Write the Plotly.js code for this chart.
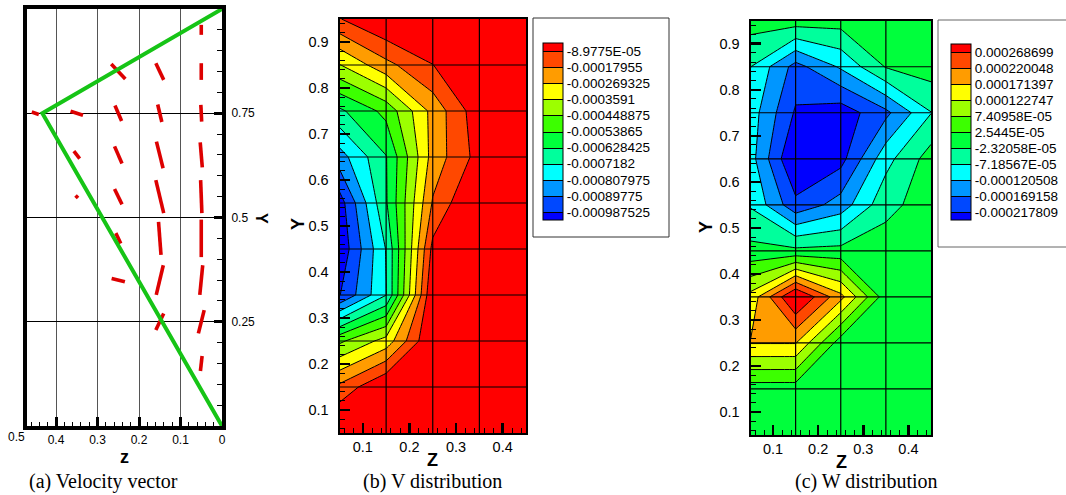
<!DOCTYPE html>
<html>
<head>
<meta charset="utf-8">
<script src="https://cdn.plot.ly/plotly-3.0.1.min.js"></script>
<style>
html,body{margin:0;padding:0;background:#ffffff;}
#chart{width:1066px;height:495px;}
</style>
</head>
<body>
<div id="chart"></div>
<script>
// ===================== DATA =====================
// mesh nodes (z across, Y up)
const zNodes = [0.05, 0.15, 0.25, 0.35, 0.45];
const yNodes = [0.05, 0.15, 0.25, 0.35, 0.45, 0.55, 0.65, 0.75, 0.85, 0.95];

// (b) V distribution, rows = yNodes (bottom to top), cols = zNodes
const vField = [
  [ 4.49e-5,   3.59e-5,   2.69e-5,   2.69e-5,  2.69e-5],
  [-1.571e-4,  8.98e-6,   2.69e-5,   2.69e-5,  2.69e-5],
  [-4.668e-4, -3.232e-4,  9.9e-6,    2.69e-5,  2.69e-5],
  [-9.920e-4, -7.200e-4,  1.0e-6,    2.69e-5,  2.69e-5],
  [-1.0594e-3,-7.137e-4, -6.28e-5,   1.80e-5,  2.69e-5],
  [-1.0324e-3,-6.374e-4, -1.706e-4,  3.59e-5,  2.69e-5],
  [-8.484e-4, -6.329e-4, -2.334e-4, -5.39e-5,  1.80e-5],
  [-6.464e-4, -5.117e-4, -2.397e-4, -2.96e-5,  1.80e-5],
  [-3.636e-4, -2.065e-4, -9.16e-5,   1.80e-5,  2.69e-5],
  [-9.43e-5,   8.98e-6,   2.69e-5,   2.69e-5,  2.69e-5]
];

// (c) W distribution, rows = yNodes (bottom to top), cols = zNodes
const wField = [
  [ 1.2e-6,    1.0e-6,    1.1e-6,    1.3e-6,   1.1e-6],
  [ 1.4e-6,    1.1e-6,    0.9e-6,    1.2e-6,   1.1e-6],
  [ 1.738e-4,  1.738e-4, -8.3e-7,    1.1e-6,   1.2e-6],
  [ 1.398e-4,  3.271e-4,  1.865e-4, -2.3e-6,   1.1e-6],
  [-8.6e-6,   -1.06e-5,  -7.6e-6,    1.1e-6,   1.0e-6],
  [-7.67e-5,  -2.042e-4, -1.478e-4, -3.78e-5,  1.1e-6],
  [-1.011e-4, -2.728e-4, -2.353e-4, -8.89e-5, -3.4e-7],
  [-9.62e-5,  -2.241e-4, -2.455e-4, -1.813e-4,-7.33e-5],
  [-7.09e-5,  -1.872e-4, -1.137e-4, -2.0e-5,   1.1e-6],
  [-2.3e-6,    1.1e-6,   -3.3e-6,    1.2e-6,   1.1e-6]
];

// contour level labels (legend)
const vLevelLabels = ['-8.9775E-05','-0.00017955','-0.000269325','-0.0003591','-0.000448875',
  '-0.00053865','-0.000628425','-0.0007182','-0.000807975','-0.00089775','-0.000987525'];
const wLevelLabels = ['0.000268699','0.000220048','0.000171397','0.000122747','7.40958E-05',
  '2.5445E-05','-2.32058E-05','-7.18567E-05','-0.000120508','-0.000169158','-0.000217809'];

// band colours, lowest band to highest band
const bandColors = ['#0000ff','#0048ff','#0096ff','#00ffff','#00ff9c','#00ff3c',
  '#3cff00','#9cff00','#ffff00','#ff9c00','#ff4800','#ff0000'];

// (a) velocity vectors: node position and displayed components (axis units)
const vecZ  = [0.05,0.05,0.05,0.05,0.05,0.05,0.05,0.05,0.05,
               0.15,0.15,0.15,0.15,0.15,0.15,0.15,
               0.25,0.25,0.25,0.25,0.25,0.25,
               0.35,0.35,0.35, 0.45];
const vecY  = [0.95,0.85,0.75,0.65,0.55,0.45,0.35,0.25,0.15,
               0.85,0.75,0.65,0.55,0.45,0.35,0.25,
               0.85,0.75,0.65,0.55,0.45,0.35,
               0.75,0.65,0.55, 0.75];
const vecDz = [0.000,0.000,-0.002,-0.005,-0.003,0.000,0.007,0.014,0.004,
               -0.019,-0.010,-0.016,-0.019,-0.006,0.017,0.019,
               -0.034,-0.016,-0.018,-0.018,-0.012,-0.032,
               -0.030,-0.014,-0.006, -0.017];
const vecDy = [-0.024,-0.040,-0.040,-0.060,-0.079,-0.090,-0.071,-0.056,-0.036,
               -0.040,-0.042,-0.064,-0.079,-0.079,-0.071,-0.040,
               -0.036,-0.037,-0.041,-0.037,-0.025,-0.008,
               -0.010,-0.018,-0.006, -0.006];

// (a) domain outline (green)
const outlineZ = [0, 0.433, 0];
const outlineY = [1, 0.75, 0];

// axis tick values
const aXTicks = [0, 0.1, 0.2, 0.3, 0.4];
const aYTicks = [0.25, 0.5, 0.75];

// ===================== BUILD =====================
const W = 1066, H = 495;
const px = v => v / W;
const py = v => 1 - v / H;
const SANS = 'Liberation Sans, Arial, Helvetica, sans-serif';
const SERIF = 'Liberation Serif, Times New Roman, serif';

function levelsInfo(labels) {
  const vals = labels.map(Number);
  const mn = Math.min(...vals), mx = Math.max(...vals);
  return {vals, start: mn, end: mx, size: (mx - mn) / (vals.length - 1)};
}
const vInfo = levelsInfo(vLevelLabels);
const wInfo = levelsInfo(wLevelLabels);
const nB = bandColors.length - 1;
const bandScale = bandColors.map((c, i) => [i / nB, c]);

function meshTrace(xa, ya) {
  const xs = [], ys = [];
  const z0 = zNodes[0], z1 = zNodes[zNodes.length - 1];
  const y0 = yNodes[0], y1 = yNodes[yNodes.length - 1];
  yNodes.slice(1, -1).forEach(y => { xs.push(z0, z1, null); ys.push(y, y, null); });
  zNodes.slice(1, -1).forEach(z => { xs.push(z, z, null); ys.push(y0, y1, null); });
  return {type:'scatter', mode:'lines', x: xs, y: ys, xaxis: xa, yaxis: ya,
          line:{color:'#000', width:1.2}, hoverinfo:'skip'};
}

function contourTrace(field, info, labels, xa, ya, cb) {
  return {
    type:'contour', x: zNodes, y: yNodes, z: field, xaxis: xa, yaxis: ya,
    autocontour:false,
    contours:{start: info.start, end: info.end + info.size*1e-3, size: info.size,
              coloring:'fill', showlines:true},
    line:{color:'#000', width:1, smoothing:0},
    colorscale: bandScale,
    showscale:true,
    colorbar: Object.assign({
      xanchor:'left', yanchor:'middle', xpad:0, ypad:0,
      lenmode:'pixels', thicknessmode:'pixels', thickness:20,
      outlinewidth:1, outlinecolor:'#000', borderwidth:0,
      tickmode:'array', tickvals: info.vals, ticktext: labels,
      ticks:'', ticklen:0,
      tickfont:{family:SANS, size:13.5, color:'#000'}
    }, cb),
    hoverinfo:'skip'
  };
}

// vectors
const vx = [], vy = [];
vecZ.forEach((z, i) => {
  vx.push(z - vecDz[i]/2, z + vecDz[i]/2, null);
  vy.push(vecY[i] - vecDy[i]/2, vecY[i] + vecDy[i]/2, null);
});

const traces = [
  {type:'scatter', mode:'lines', x: vx, y: vy, xaxis:'x', yaxis:'y',
   line:{color:'#dd0000', width:3.6}, hoverinfo:'skip'},
  {type:'scatter', mode:'lines', x: outlineZ, y: outlineY, xaxis:'x', yaxis:'y',
   line:{color:'#16c416', width:4}, hoverinfo:'skip', cliponaxis:false},
  contourTrace(vField, vInfo, vLevelLabels, 'x2', 'y2',
    {x: px(543), y: py(131.5), len: 177}),
  meshTrace('x2', 'y2'),
  contourTrace(wField, wInfo, wLevelLabels, 'x3', 'y3',
    {x: px(951), y: py(132), len: 176}),
  meshTrace('x3', 'y3')
];

const tickFont = {family: SANS, size: 14.5, color:'#000'};
function contourAxes(dom, isX) {
  return {
    domain: dom, range: isX ? [0.05, 0.45] : [0.05, 0.95],
    tickmode:'linear', tick0:0, dtick:0.1,
    ticks:'inside', ticklen:10, tickwidth:2.5, tickcolor:'#000',
    minor:{ticks:'inside', ticklen:5, tickwidth:1, tickcolor:'#000', tick0:0, dtick:0.02, showgrid:false},
    showline:true, linewidth:2, linecolor:'#000', mirror:true,
    showgrid:false, zeroline:false, layer:'above traces',
    tickfont: tickFont, ticklabelstandoff: isX ? 0 : 6
  };
}

const layout = {
  width: W, height: H,
  margin:{l:0, r:0, t:0, b:0, autoexpand:false},
  paper_bgcolor:'#fff', plot_bgcolor:'#fff',
  showlegend:false,
  font:{family: SANS, color:'#000'},
  xaxis:{
    domain:[px(27), px(222)], range:[0.47, 0], anchor:'y',
    tickmode:'array', tickvals: aXTicks,
    ticks:'inside', ticklen:9, tickwidth:3, tickcolor:'#000',
    minor:{ticks:'inside', ticklen:4, tickwidth:1, tickcolor:'#000', tick0:0, dtick:0.02, showgrid:false},
    showgrid:true, gridcolor:'#555', gridwidth:1,
    showline:true, linewidth:4, linecolor:'#000', mirror:true,
    zeroline:false, layer:'above traces',
    tickfont:{family:SANS, size:12, color:'#000'}
  },
  yaxis:{
    domain:[py(426), py(9)], range:[0, 1], anchor:'x', side:'right',
    tickmode:'array', tickvals: aYTicks,
    ticks:'inside', ticklen:8, tickwidth:3, tickcolor:'#000',
    minor:{ticks:'inside', ticklen:5, tickwidth:1, tickcolor:'#000', tick0:0, dtick:0.05, showgrid:false},
    showgrid:true, gridcolor:'#000', gridwidth:1,
    showline:true, linewidth:4, linecolor:'#000', mirror:true,
    zeroline:false, layer:'above traces', ticklabelstandoff:3,
    tickfont:{family:SANS, size:12, color:'#000'}
  },
  xaxis2: Object.assign(contourAxes([px(339.5), px(526)], true), {anchor:'y2'}),
  yaxis2: Object.assign(contourAxes([py(433), py(19)], false), {anchor:'x2'}),
  xaxis3: Object.assign(contourAxes([px(750.5), px(931)], true), {anchor:'y3'}),
  yaxis3: Object.assign(contourAxes([py(435), py(20.7)], false), {anchor:'x3'}),
  shapes:[
    {type:'rect', xref:'paper', yref:'paper', x0:px(533), x1:px(669), y0:py(237), y1:py(18),
     line:{color:'#333', width:1}, fillcolor:'rgba(0,0,0,0)', layer:'below'},
    {type:'rect', xref:'paper', yref:'paper', x0:px(938), x1:px(1080), y0:py(247), y1:py(20),
     line:{color:'#666', width:1}, fillcolor:'rgba(0,0,0,0)', layer:'below'}
  ],
  annotations:[
    {text:'0.5', xref:'paper', yref:'paper', x:px(16), y:py(437), showarrow:false,
     font:{family:SANS, size:12, color:'#000'}, xanchor:'center', yanchor:'middle'},
    {text:'<b>z</b>', xref:'paper', yref:'paper', x:px(124), y:py(457), showarrow:false,
     font:{family:SANS, size:18, color:'#000'}, xanchor:'center', yanchor:'middle'},
    {text:'<b>Y</b>', xref:'paper', yref:'paper', x:px(261), y:py(218), showarrow:false, textangle:90,
     font:{family:SANS, size:16, color:'#000'}, xanchor:'center', yanchor:'middle'},
    {text:'<b>Z</b>', xref:'paper', yref:'paper', x:px(432), y:py(460), showarrow:false,
     font:{family:SANS, size:18, color:'#000'}, xanchor:'center', yanchor:'middle'},
    {text:'<b>Y</b>', xref:'paper', yref:'paper', x:px(298), y:py(224), showarrow:false, textangle:-90,
     font:{family:SANS, size:18, color:'#000'}, xanchor:'center', yanchor:'middle'},
    {text:'<b>Z</b>', xref:'paper', yref:'paper', x:px(841), y:py(462), showarrow:false,
     font:{family:SANS, size:18, color:'#000'}, xanchor:'center', yanchor:'middle'},
    {text:'<b>Y</b>', xref:'paper', yref:'paper', x:px(706), y:py(227), showarrow:false, textangle:-90,
     font:{family:SANS, size:18, color:'#000'}, xanchor:'center', yanchor:'middle'},
    {text:'(a) Velocity vector', xref:'paper', yref:'paper', x:px(103), y:py(481), showarrow:false,
     font:{family:SERIF, size:20, color:'#000'}, xanchor:'center', yanchor:'middle', borderpad:0},
    {text:'(b) V distribution', xref:'paper', yref:'paper', x:px(432), y:py(481), showarrow:false,
     font:{family:SERIF, size:20, color:'#000'}, xanchor:'center', yanchor:'middle', borderpad:0},
    {text:'(c) W distribution', xref:'paper', yref:'paper', x:px(866), y:py(481), showarrow:false,
     font:{family:SERIF, size:20, color:'#000'}, xanchor:'center', yanchor:'middle', borderpad:0}
  ]
};

Plotly.newPlot('chart', traces, layout, {displayModeBar:false, staticPlot:true});
</script>
</body>
</html>
